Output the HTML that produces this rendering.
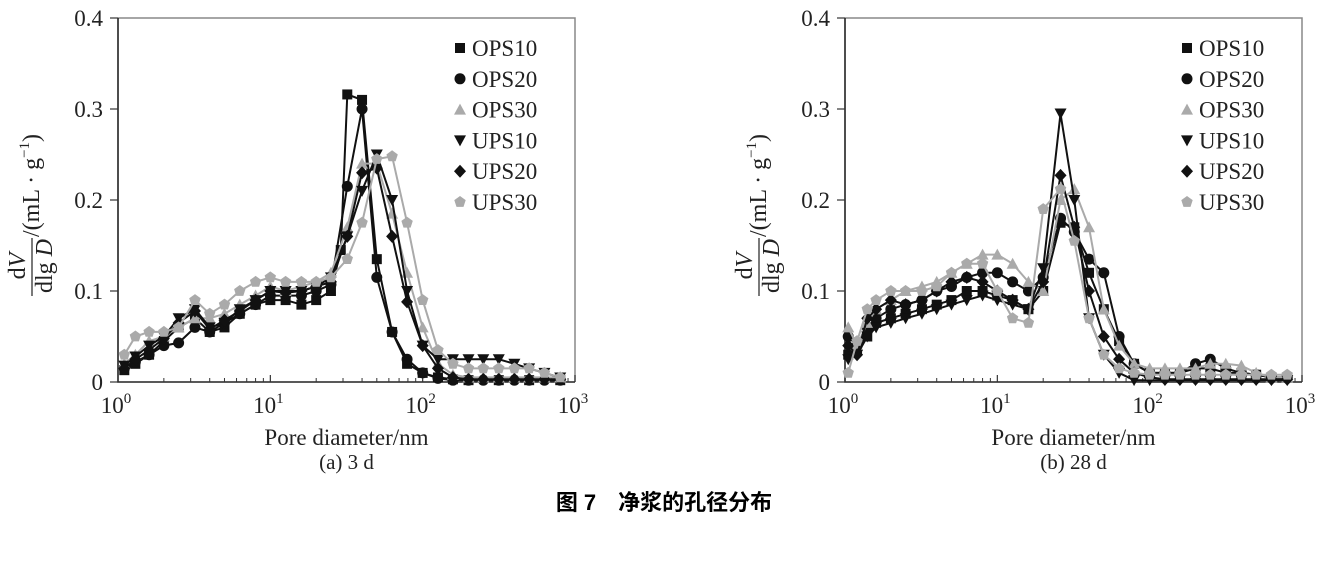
<!DOCTYPE html>
<html><head><meta charset="utf-8"><style>
body{margin:0;background:#fff;}
svg{display:block;font-family:"Liberation Serif","Noto Serif CJK SC",serif;}
</style></head><body>
<svg id="svg" width="1328" height="566" viewBox="0 0 1328 566" xmlns="http://www.w3.org/2000/svg">
<text x="664" y="510" text-anchor="middle" font-size="22" font-weight="bold" font-family="'Liberation Sans','Noto Sans CJK SC',sans-serif">图 7　净浆的孔径分布</text>
</svg>
<script>
const seriesNames=["OPS10","OPS20","OPS30","UPS10","UPS20","UPS30"];
const seriesColors=["#111","#111","#aaa","#111","#111","#aaa"];
const seriesShapes=["square","circle","triangle","down","diamond","pentagon"];
const yTicks=[0,0.1,0.2,0.3,0.4];
const xTickExp=[0,1,2,3];
// (a) 3 d
const a_x0=[1.1,1.3,1.6,2,2.5,3.2,4,5,6.3,8,10,12.6,16,20,25,29,32,40,50,63,79,100,126,158,200,316,500,800];
const a_OPS10=[0.013,0.02,0.03,0.045,0.06,0.07,0.055,0.06,0.075,0.085,0.09,0.09,0.085,0.09,0.1,0.145,0.316,0.31,0.135,0.055,0.02,0.01,0.005,0.003,0.002,0.002,0.002,0.002];
const a_x1=[1.1,1.3,1.6,2,2.5,3.2,4,5,6.3,8,10,12.6,16,20,25,32,40,50,63,79,100,126,158,200,250,316,400,500,630,800];
const a_OPS20=[0.015,0.022,0.03,0.04,0.043,0.06,0.055,0.065,0.075,0.085,0.095,0.095,0.095,0.1,0.107,0.215,0.30,0.115,0.055,0.025,0.01,0.004,0.002,0.002,0.002,0.002,0.002,0.002,0.002,0.002];
const a_OPS30=[0.02,0.03,0.045,0.05,0.06,0.07,0.07,0.075,0.085,0.095,0.105,0.1,0.105,0.11,0.12,0.17,0.24,0.24,0.185,0.12,0.06,0.02,0.008,0.005,0.005,0.005,0.005,0.005,0.005,0.005];
const a_UPS10=[0.018,0.028,0.04,0.05,0.07,0.08,0.06,0.065,0.08,0.09,0.1,0.1,0.1,0.105,0.115,0.16,0.21,0.25,0.2,0.1,0.04,0.025,0.025,0.025,0.025,0.025,0.02,0.015,0.01,0.005];
const a_UPS20=[0.015,0.025,0.035,0.048,0.065,0.078,0.058,0.068,0.078,0.09,0.1,0.098,0.1,0.105,0.11,0.16,0.23,0.235,0.16,0.088,0.04,0.015,0.005,0.003,0.003,0.003,0.003,0.003,0.003,0.003];
const a_UPS30=[0.03,0.05,0.055,0.055,0.06,0.09,0.075,0.085,0.1,0.11,0.115,0.11,0.11,0.11,0.115,0.135,0.175,0.245,0.248,0.175,0.09,0.035,0.02,0.015,0.015,0.015,0.015,0.015,0.01,0.005];
// (b) 28 d
const b_x=[1.05,1.2,1.4,1.6,2,2.5,3.2,4,5,6.3,8,10,12.6,16,20,26,32,40,50,63,79,100,126,158,200,250,316,400,500,630,800];
const b_OPS10=[0.03,0.035,0.05,0.065,0.07,0.075,0.08,0.085,0.09,0.1,0.1,0.095,0.09,0.08,0.1,0.175,0.17,0.12,0.08,0.045,0.02,0.01,0.01,0.01,0.015,0.015,0.01,0.01,0.008,0.005,0.005];
const b_OPS20=[0.05,0.04,0.06,0.07,0.08,0.085,0.09,0.1,0.105,0.115,0.12,0.12,0.11,0.1,0.115,0.18,0.165,0.135,0.12,0.05,0.02,0.01,0.01,0.01,0.02,0.025,0.015,0.01,0.008,0.005,0.005];
const b_OPS30=[0.06,0.04,0.065,0.08,0.09,0.1,0.105,0.11,0.12,0.13,0.14,0.14,0.13,0.11,0.1,0.2,0.212,0.17,0.08,0.04,0.02,0.015,0.015,0.015,0.015,0.02,0.02,0.018,0.01,0.005,0.005];
const b_UPS10=[0.025,0.03,0.05,0.06,0.065,0.07,0.075,0.08,0.085,0.09,0.095,0.09,0.085,0.08,0.125,0.295,0.2,0.07,0.03,0.01,0.002,0.002,0.002,0.002,0.002,0.002,0.002,0.002,0.002,0.002,0.002];
const b_UPS20=[0.04,0.03,0.07,0.08,0.09,0.085,0.09,0.1,0.11,0.115,0.11,0.1,0.09,0.08,0.11,0.227,0.17,0.1,0.05,0.025,0.01,0.005,0.003,0.003,0.003,0.003,0.003,0.003,0.003,0.003,0.003];
const b_UPS30=[0.01,0.045,0.08,0.09,0.1,0.1,0.1,0.105,0.12,0.13,0.13,0.1,0.07,0.065,0.19,0.212,0.155,0.07,0.03,0.015,0.01,0.008,0.008,0.008,0.008,0.008,0.008,0.008,0.008,0.008,0.008];

const NS="http://www.w3.org/2000/svg";
const svg=document.getElementById('svg');
function mk(tag,attrs,parent){const e=document.createElementNS(NS,tag);for(const k in attrs)e.setAttribute(k,attrs[k]);(parent||svg).appendChild(e);return e;}
function marker(g,shape,cx,cy,col){
  const s=5;let e;
  if(shape==="square")e=mk('rect',{x:cx-s,y:cy-s,width:2*s,height:2*s,fill:col},g);
  else if(shape==="circle")e=mk('circle',{cx:cx,cy:cy,r:s+0.5,fill:col},g);
  else if(shape==="triangle")e=mk('polygon',{points:`${cx},${cy-s-1} ${cx+s+1},${cy+s} ${cx-s-1},${cy+s}`,fill:col},g);
  else if(shape==="down")e=mk('polygon',{points:`${cx-s-1},${cy-s} ${cx+s+1},${cy-s} ${cx},${cy+s+1}`,fill:col},g);
  else if(shape==="diamond")e=mk('polygon',{points:`${cx},${cy-s-1.5} ${cx+s+1},${cy} ${cx},${cy+s+1.5} ${cx-s-1},${cy}`,fill:col},g);
  else{let p=[];for(let i=0;i<5;i++){const a=-Math.PI/2+i*2*Math.PI/5;p.push((cx+(s+1)*Math.cos(a)).toFixed(1)+","+(cy+(s+1)*Math.sin(a)).toFixed(1));}e=mk('polygon',{points:p.join(' '),fill:col},g);}
  
  
}
function panel(id,L,R,T,B,xs,ys,legX,sub,ylabX){
  const g=mk('g',{});
  
  
  const sx=v=>L+(Math.log10(v)-0)/3*(R-L);
  const sy=v=>B-(v/0.4)*(B-T);
  const box=mk('polyline',{points:`${L},${T} ${R},${T} ${R},${B}`,fill:'none',stroke:'#888','stroke-width':1.5},g);
  
  
  const ax=mk('polyline',{points:`${L},${T} ${L},${B} ${R},${B}`,fill:'none',stroke:'#222','stroke-width':1.6},g);
  
  
  yTicks.forEach(t=>{
    mk('line',{x1:L-8,x2:L,y1:sy(t),y2:sy(t),stroke:'#333','stroke-width':1.2},g);
    const tx=mk('text',{x:L-15,y:sy(t)+8,'text-anchor':'end','font-size':23,fill:'#222'},g);
    tx.textContent=t===0?'0':t.toFixed(1);
    
    
  });
  xTickExp.forEach(e=>{
    const x=sx(Math.pow(10,e));
    mk('line',{x1:x,x2:x,y1:B,y2:B-7,stroke:'#333','stroke-width':1.2},g);
    if(e<3)for(let m=2;m<10;m++){const xm=sx(m*Math.pow(10,e));mk('line',{x1:xm,x2:xm,y1:B,y2:B-4,stroke:'#333','stroke-width':1},g);}
    const tx=mk('text',{x:x-2,y:B+31,'text-anchor':'middle','font-size':23,fill:'#222'},g);
    tx.innerHTML='10<tspan font-size="15" dy="-10">'+e+'</tspan>';
    
    
  });
  const xl=mk('text',{x:(L+R)/2,y:B+63,'text-anchor':'middle','font-size':23,fill:'#222'},g);
  xl.textContent='Pore diameter/nm';
  
  
  const yl=mk('g',{transform:`translate(${ylabX},200) rotate(-90)`},g);
  
  
  mk('text',{x:-66,y:-7,'text-anchor':'middle','font-size':24,fill:'#222'},yl).innerHTML='d<tspan font-style="italic">V</tspan>';
  mk('line',{x1:-96,x2:-38,y1:0,y2:0,stroke:'#222','stroke-width':1.2},yl);
  mk('text',{x:-66,y:20,'text-anchor':'middle','font-size':24,fill:'#222'},yl).innerHTML='dlg <tspan font-style="italic">D</tspan>';
  mk('text',{x:-37,y:7,'text-anchor':'start','font-size':24,fill:'#222'},yl).innerHTML='/(mL · g<tspan font-size="15" dy="-10">−1</tspan><tspan dy="10">)</tspan>';
  ys.forEach((arr,i)=>{
    const sg=mk('g',{},g);
    
    
    const xa=xs[i];
    const pts=arr.map((v,j)=>sx(xa[j]).toFixed(1)+','+sy(v).toFixed(1)).join(' ');
    mk('polyline',{points:pts,fill:'none',stroke:seriesColors[i],'stroke-width':2},sg);
    arr.forEach((v,j)=>marker(sg,seriesShapes[i],sx(xa[j]),sy(v),seriesColors[i]));
  });
  seriesNames.forEach((n,i)=>{
    const lg=mk('g',{},g);
    
    
    const y=48+i*30.8;
    marker(lg,seriesShapes[i],legX,y,seriesColors[i]);
    const t=mk('text',{x:legX+12,y:y+8,'font-size':23,fill:'#222'},lg);t.textContent=n;
  });
  const st=mk('text',{x:(L+R)/2,y:469,'text-anchor':'middle','font-size':21,fill:'#222'},g);
  st.textContent=sub;
  
  
}
panel('chart-3d',118,575,18,382,[a_x0,a_x1,a_x1,a_x1,a_x1,a_x1],[a_OPS10,a_OPS20,a_OPS30,a_UPS10,a_UPS20,a_UPS30],460,'(a) 3 d',32);
panel('chart-28d',845,1302,18,382,[b_x,b_x,b_x,b_x,b_x,b_x],[b_OPS10,b_OPS20,b_OPS30,b_UPS10,b_UPS20,b_UPS30],1187,'(b) 28 d',759);
</script>
</body></html>
